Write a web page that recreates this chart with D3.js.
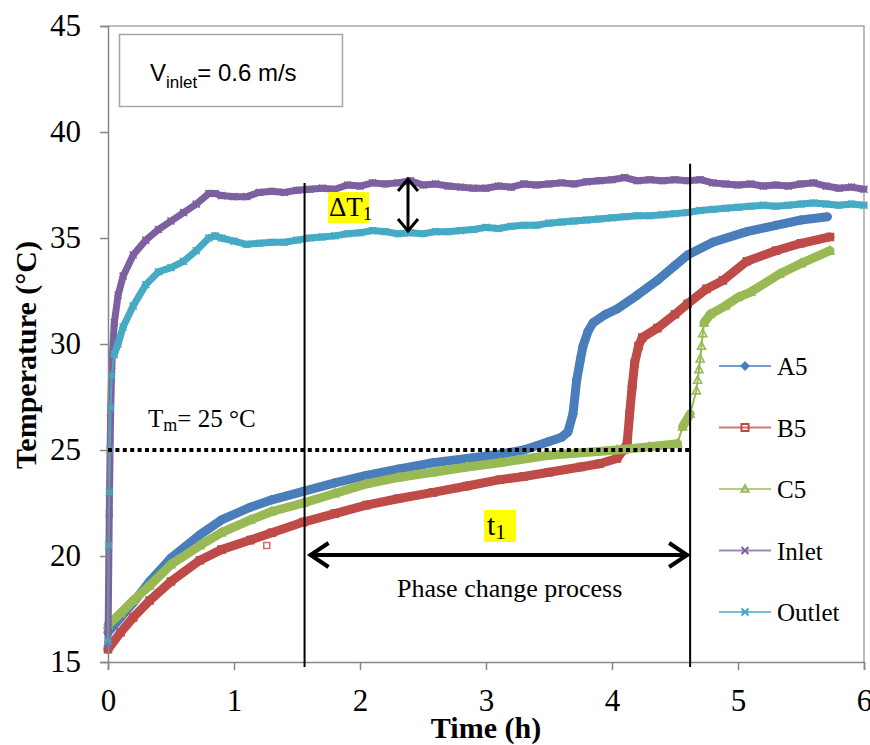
<!DOCTYPE html>
<html>
<head>
<meta charset="utf-8">
<script src="https://cdn.jsdelivr.net/npm/d3@7"></script>
<style>
  body { margin: 0; background: #fff; }
  text { font-family: "Liberation Serif", "Times New Roman", serif; fill: #000; }
</style>
</head>
<body>
<div id="chart"></div>
<script>
// Temperature history of the PCM unit, V_inlet = 0.6 m/s

var width = 870
var height = 745

// time (h) and temperature (C)
var a5_time = [0,0.1,0.2,0.33,0.5,0.73,0.9,1.13,1.3,1.55,1.8,2.05,2.3,2.58,2.85,3.11,3.3,3.5,3.6,3.65,3.69,3.72,3.75,3.77,3.81,3.85,3.95,4.04,4.2,4.36,4.5,4.6,4.8,5.07,5.3,5.5,5.71]
var a5_temp = [16.4,17.1,17.8,18.8,19.9,21.0,21.7,22.3,22.65,23.05,23.45,23.8,24.1,24.4,24.6,24.8,25.0,25.4,25.6,25.85,26.7,28.3,29.3,29.9,30.6,31.0,31.4,31.65,32.3,33.0,33.7,34.2,34.8,35.3,35.6,35.85,36.0]

var b5_time = [0,0.1,0.2,0.33,0.5,0.73,0.9,1.13,1.3,1.55,1.8,2.05,2.3,2.58,2.85,3.11,3.3,3.5,3.75,3.9,4.04,4.09,4.12,4.14,4.16,4.18,4.21,4.24,4.36,4.5,4.6,4.75,4.88,5.07,5.3,5.5,5.73]
var b5_temp = [15.6,16.4,17.1,17.9,18.8,19.8,20.3,20.75,21.1,21.6,22.0,22.4,22.7,23.0,23.3,23.6,23.75,23.95,24.2,24.35,24.6,25.0,25.3,26.7,28.0,29.1,29.9,30.3,30.75,31.4,31.9,32.6,33.0,33.9,34.4,34.75,35.05]
// single stray B5 reading
var b5_stray_time = [1.26]
var b5_stray_temp = [20.5]

var c5_time = [0,0.1,0.2,0.33,0.5,0.73,0.9,1.13,1.3,1.55,1.8,2.05,2.3,2.58,2.85,3.11,3.5,4.04,4.3,4.52,4.56,4.62,4.67,4.68,4.69,4.70,4.71,4.72,4.73,4.78,4.9,5.0,5.1,5.33,5.5,5.73]
var c5_temp = [16.75,17.3,17.9,18.6,19.6,20.5,21.1,21.7,22.1,22.5,22.95,23.4,23.7,23.95,24.2,24.4,24.75,25.0,25.15,25.3,26.1,26.7,27.8,28.3,28.8,29.3,29.9,30.5,31.0,31.4,31.8,32.2,32.45,33.3,33.8,34.4]

var inlet_time = [0,0.01,0.02,0.03,0.05,0.08,0.12,0.2,0.3,0.4,0.5,0.6,0.7,0.8,0.85,0.9,1.0,1.1,1.2,1.3,1.4,1.5,1.6,1.7,1.8,1.9,2.0,2.1,2.2,2.3,2.4,2.5,2.6,2.7,2.8,2.9,3.0,3.1,3.2,3.3,3.4,3.5,3.6,3.7,3.8,3.9,4.0,4.1,4.2,4.3,4.4,4.5,4.6,4.7,4.8,4.9,5.0,5.1,5.2,5.3,5.4,5.5,5.6,5.7,5.8,5.9,6.0]
var inlet_temp = [15.8,22,26.5,29,31,32.3,33.2,34.2,34.9,35.4,35.8,36.2,36.6,37.1,37.1,37.0,36.95,36.95,37.15,37.2,37.15,37.25,37.3,37.35,37.3,37.5,37.45,37.6,37.55,37.6,37.7,37.5,37.55,37.45,37.4,37.35,37.35,37.45,37.4,37.55,37.5,37.55,37.6,37.55,37.65,37.7,37.75,37.85,37.7,37.75,37.7,37.75,37.7,37.75,37.6,37.55,37.5,37.55,37.45,37.5,37.45,37.55,37.6,37.45,37.35,37.4,37.3]

var outlet_time = [0,0.005,0.01,0.015,0.02,0.03,0.05,0.08,0.12,0.2,0.3,0.4,0.5,0.6,0.7,0.8,0.85,0.9,1.0,1.1,1.2,1.3,1.4,1.5,1.6,1.7,1.8,1.9,2.0,2.1,2.2,2.3,2.4,2.5,2.6,2.7,2.8,2.9,3.0,3.1,3.2,3.3,3.4,3.5,3.6,3.7,3.8,3.9,4.0,4.1,4.2,4.3,4.4,4.5,4.6,4.7,4.8,4.9,5.0,5.1,5.2,5.3,5.4,5.5,5.6,5.7,5.8,5.9,6.0]
var outlet_temp = [16,20.5,23,25,27,28.5,29.5,30,30.8,31.8,32.8,33.4,33.6,33.9,34.4,35.0,35.1,35.0,34.85,34.7,34.75,34.8,34.8,34.9,35.0,35.05,35.1,35.2,35.25,35.35,35.3,35.2,35.25,35.2,35.3,35.3,35.35,35.4,35.5,35.45,35.55,35.6,35.6,35.7,35.75,35.8,35.85,35.9,35.95,36.0,36.05,36.05,36.1,36.15,36.2,36.3,36.35,36.4,36.45,36.5,36.55,36.5,36.55,36.6,36.65,36.6,36.55,36.6,36.55]

var x_ticks = [0,1,2,3,4,5,6]
var y_ticks = [15,20,25,30,35,40,45]

// annotation positions in data units
var t_start = 1.56
var t_end = 4.62
var t_melt = 25

// steep: slope (C/h) above which the sparse readings show as a thin line
var series = [
  {name:"A5", time:a5_time, temp:a5_temp, color:"#4a7ebb", symbol:"diamond", band:9, steep:1e9},
  {name:"B5", time:b5_time, temp:b5_temp, color:"#be4b48", symbol:"square", band:9, steep:1e9},
  {name:"C5", time:c5_time, temp:c5_temp, color:"#98b954", symbol:"triangle", band:9, steep:20},
  {name:"Inlet", time:inlet_time, temp:inlet_temp, color:"#7d60a0", symbol:"cross", band:7, steep:1e9},
  {name:"Outlet", time:outlet_time, temp:outlet_temp, color:"#46aac5", symbol:"star", band:7, steep:40}
]

var x = d3.scaleLinear().domain([0,6]).range([108,864])
var y = d3.scaleLinear().domain([15,45]).range([662,26])

var svg = d3.select("#chart").append("svg")
    .attr("width", width)
    .attr("height", height)

// plot frame (top and right)
svg.append("path")
    .attr("d", "M" + x(0) + "," + y(45) + "H" + x(6) + "V" + y(15))
    .attr("fill", "none")
    .attr("stroke", "#a6a6a6")
    .attr("stroke-width", 1.5)

function symbolPath(kind, size) {
    var s = size
    if (kind == "diamond") return "M0," + (-s) + "L" + s + ",0L0," + s + "L" + (-s) + ",0Z"
    if (kind == "square") return "M" + (-s) + "," + (-s) + "h" + 2*s + "v" + 2*s + "h" + (-2*s) + "Z"
    if (kind == "triangle") return "M0," + (-s*1.1) + "L" + s + "," + s*0.8 + "L" + (-s) + "," + s*0.8 + "Z"
    if (kind == "cross") return "M" + (-s) + "," + (-s) + "L" + s + "," + s + "M" + s + "," + (-s) + "L" + (-s) + "," + s
    return "M" + (-s) + "," + (-s) + "L" + s + "," + s + "M" + s + "," + (-s) + "L" + (-s) + "," + s + "M" + (-s) + ",0H" + s
}

series.forEach(function(s) {
    var pts = s.time.map(function(t, i) { return [t, s.temp[i]] })
    var segs = d3.pairs(pts)
    var g = svg.append("g")
    // thin connecting line under everything
    g.append("path")
        .datum(pts)
        .attr("d", d3.line().x(function(d) { return x(d[0]) }).y(function(d) { return y(d[1]) }))
        .attr("fill", "none")
        .attr("stroke", s.color)
        .attr("stroke-width", 2)
    // thick band where readings are dense
    g.selectAll(".seg")
        .data(segs.filter(function(p) {
            return Math.abs((p[1][1] - p[0][1]) / (p[1][0] - p[0][0])) < s.steep
        }))
        .enter()
        .append("line")
        .attr("class", "seg")
        .attr("x1", function(p) { return x(p[0][0]) })
        .attr("y1", function(p) { return y(p[0][1]) })
        .attr("x2", function(p) { return x(p[1][0]) })
        .attr("y2", function(p) { return y(p[1][1]) })
        .attr("stroke", s.color)
        .attr("stroke-width", s.band)
        .attr("stroke-linecap", "round")
    g.selectAll(".mk")
        .data(pts)
        .enter()
        .append("path")
        .attr("class", "mk")
        .attr("transform", function(d) { return "translate(" + x(d[0]) + "," + y(d[1]) + ")" })
        .attr("d", symbolPath(s.symbol, s.symbol == "triangle" ? 4 : 3.5))
        .attr("fill", s.symbol == "diamond" ? s.color : "none")
        .attr("stroke", s.color)
        .attr("stroke-width", 1.6)
})

// stray B5 point
svg.selectAll(".stray")
    .data(b5_stray_time)
    .enter()
    .append("path")
    .attr("class", "stray")
    .attr("transform", function(d, i) { return "translate(" + x(d) + "," + y(b5_stray_temp[i]) + ")" })
    .attr("d", symbolPath("square", 3))
    .attr("fill", "none")
    .attr("stroke", "#d06a66")
    .attr("stroke-width", 1.5)

// axes
var yAxis = svg.append("g")
    .attr("transform", "translate(" + x(0) + ",0)")
    .call(d3.axisLeft(y).tickValues(y_ticks).tickSize(8).tickPadding(19).tickFormat(d3.format("d")))
var xAxis = svg.append("g")
    .attr("transform", "translate(0," + y(15) + ")")
    .call(d3.axisBottom(x).tickValues(x_ticks).tickSize(8).tickPadding(19).tickFormat(d3.format("d")))

;[xAxis, yAxis].forEach(function(ax) {
    ax.select(".domain").attr("stroke", "#868686").attr("stroke-width", 1.5)
    ax.selectAll(".tick line").attr("stroke", "#868686").attr("stroke-width", 1.5)
    ax.selectAll(".tick text")
        .style("font-family", "'Liberation Serif', 'Times New Roman', serif")
        .style("font-size", "31px")
        .attr("fill", "#000")
})

// axis titles
svg.append("text")
    .attr("x", 486)
    .attr("y", 738)
    .attr("text-anchor", "middle")
    .style("font-size", "30px")
    .style("font-weight", "bold")
    .text("Time (h)")

svg.append("text")
    .attr("transform", "translate(36,355) rotate(-90)")
    .attr("text-anchor", "middle")
    .style("font-size", "30px")
    .style("font-weight", "bold")
    .text("Temperature (°C)")

// melting temperature line
svg.append("line")
    .attr("x1", x(0)).attr("x2", x(t_end))
    .attr("y1", y(t_melt)).attr("y2", y(t_melt))
    .attr("stroke", "#000")
    .attr("stroke-width", 4)
    .attr("stroke-dasharray", "4,3.4")

// phase change limits
svg.append("line")
    .attr("x1", x(t_start)).attr("x2", x(t_start))
    .attr("y1", y(37.6)).attr("y2", y(15) + 5)
    .attr("stroke", "#000").attr("stroke-width", 2)
svg.append("line")
    .attr("x1", x(t_end)).attr("x2", x(t_end))
    .attr("y1", y(38.5)).attr("y2", y(15) + 5)
    .attr("stroke", "#000").attr("stroke-width", 2)

// t1 double arrow
var ay = 555
var ax0 = x(t_start) + 5
var ax1 = x(t_end) - 2
svg.append("line")
    .attr("x1", ax0).attr("x2", ax1)
    .attr("y1", ay).attr("y2", ay)
    .attr("stroke", "#000").attr("stroke-width", 4)
svg.append("polyline")
    .attr("points", [[ax0 + 19, ay - 12], [ax0 + 1, ay], [ax0 + 19, ay + 12]].join(" "))
    .attr("fill", "none").attr("stroke", "#000").attr("stroke-width", 4)
svg.append("polyline")
    .attr("points", [[ax1 - 19, ay - 12], [ax1 - 1, ay], [ax1 - 19, ay + 12]].join(" "))
    .attr("fill", "none").attr("stroke", "#000").attr("stroke-width", 4)

// delta T double arrow
var vx = 408
var vy0 = 178
var vy1 = 232
svg.append("line")
    .attr("x1", vx).attr("x2", vx)
    .attr("y1", vy0 + 1).attr("y2", vy1 - 1)
    .attr("stroke", "#000").attr("stroke-width", 3)
svg.append("polyline")
    .attr("points", [[vx - 10, vy0 + 13], [vx, vy0 + 1], [vx + 10, vy0 + 13]].join(" "))
    .attr("fill", "none").attr("stroke", "#000").attr("stroke-width", 3)
svg.append("polyline")
    .attr("points", [[vx - 10, vy1 - 13], [vx, vy1 - 1], [vx + 10, vy1 - 13]].join(" "))
    .attr("fill", "none").attr("stroke", "#000").attr("stroke-width", 3)

// labels with yellow highlight
svg.append("rect")
    .attr("x", 328).attr("y", 192).attr("width", 41).attr("height", 31)
    .attr("fill", "#ffff00")
var dt = svg.append("text").attr("x", 329).attr("y", 216).style("font-size", "27px")
dt.append("tspan").text("ΔT")
dt.append("tspan").attr("dy", 4).style("font-size", "19px").text("1")

svg.append("rect")
    .attr("x", 484).attr("y", 510).attr("width", 32).attr("height", 32)
    .attr("fill", "#ffff00")
var t1 = svg.append("text").attr("x", 487).attr("y", 535).style("font-size", "30px")
t1.append("tspan").text("t")
t1.append("tspan").attr("dy", 4).style("font-size", "21px").text("1")

svg.append("text")
    .attr("x", 397)
    .attr("y", 597)
    .style("font-size", "26px")
    .text("Phase change process")

var tm = svg.append("text").attr("x", 148).attr("y", 427).style("font-size", "25px")
tm.append("tspan").text("T")
tm.append("tspan").attr("dy", 4).style("font-size", "18px").text("m")
tm.append("tspan").attr("dy", -4).text("= 25 °C")

// velocity box
svg.append("rect")
    .attr("x", 119.5).attr("y", 34.5).attr("width", 223).attr("height", 72)
    .attr("fill", "#fff")
    .attr("stroke", "#a6a6a6")
    .attr("stroke-width", 1.5)
var vt = svg.append("text").attr("x", 150).attr("y", 81)
    .style("font-family", "'Liberation Sans', Arial, sans-serif")
    .style("font-size", "24px")
vt.append("tspan").text("V")
vt.append("tspan").attr("dy", 7).style("font-size", "17px").text("inlet")
vt.append("tspan").attr("dy", -7).text("= 0.6 m/s")

// legend
var legend = svg.append("g")
    .selectAll("g")
    .data(series)
    .enter()
    .append("g")
    .attr("transform", function(d, i) { return "translate(719," + (366 + i * 61.5) + ")" })

legend.append("line")
    .attr("x1", 0).attr("x2", 52)
    .attr("stroke", function(d) { return d.color })
    .attr("stroke-opacity", 0.75)
    .attr("stroke-width", 2)
legend.append("path")
    .attr("transform", "translate(26,0)")
    .attr("d", function(d) { return symbolPath(d.symbol, 3.5) })
    .attr("fill", function(d) { return d.symbol == "diamond" ? d.color : "none" })
    .attr("stroke", function(d) { return d.color })
    .attr("stroke-width", 2)
legend.append("text")
    .attr("x", 58)
    .attr("y", 9)
    .style("font-size", "25px")
    .text(function(d) { return d.name })
</script>
</body>
</html>
